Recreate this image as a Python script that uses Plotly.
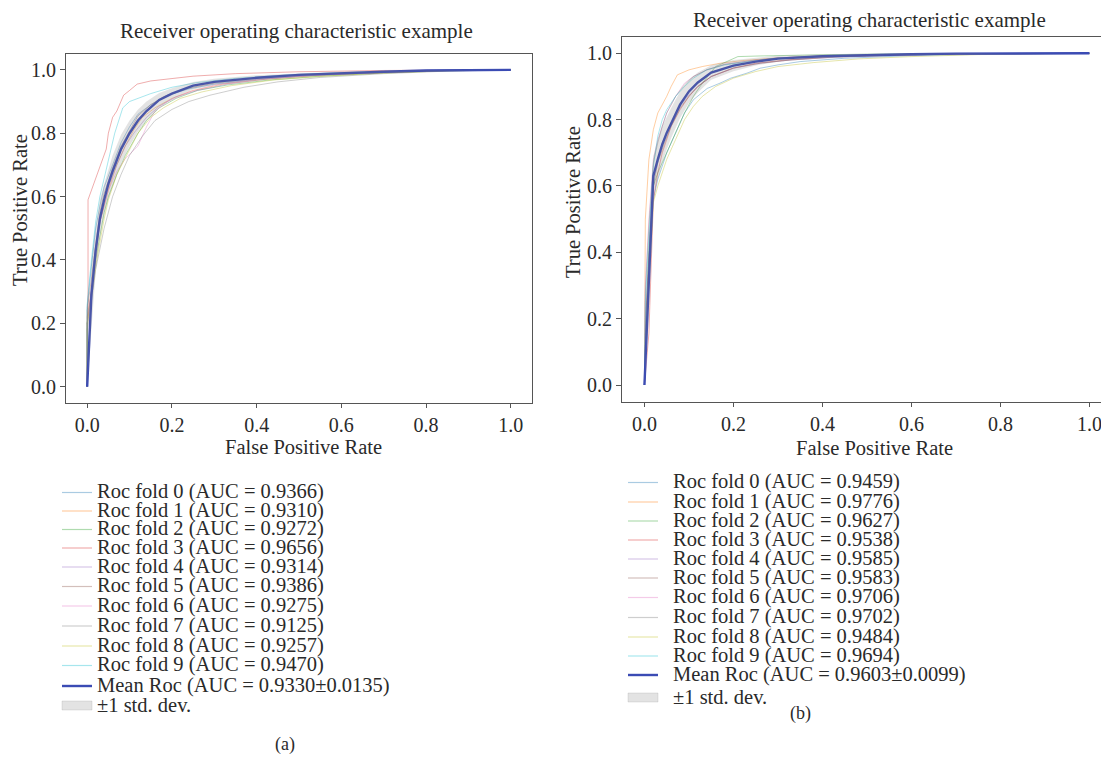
import plotly.graph_objects as go

W, H = 1109, 758
OFF = 8                      # browser body margin around the plot div
FW, FH = W - OFF, H - OFF    # figure size so that the page fits the window
FONT = "Liberation Serif"
TXT = "#2a2a2a"
AX = "#555555"

# ---------------- data: panel (a) ----------------
fpr_a0 = [0, 0, 0.01, 0.02, 0.03, 0.04, 0.06, 0.08, 0.1, 0.12, 0.15, 0.19, 0.24, 0.3, 0.4, 0.5, 0.65, 0.8, 1]
tpr_a0 = [0, 0.25, 0.38, 0.5, 0.57, 0.63, 0.7, 0.77, 0.82, 0.86, 0.89, 0.92, 0.94, 0.955, 0.97, 0.98, 0.99, 0.998, 1]
fpr_a1 = [0, 0, 0.01, 0.02, 0.03, 0.05, 0.07, 0.09, 0.11, 0.13, 0.16, 0.2, 0.25, 0.32, 0.42, 0.55, 0.7, 0.85, 1]
tpr_a1 = [0, 0.22, 0.3, 0.42, 0.52, 0.62, 0.7, 0.76, 0.81, 0.85, 0.88, 0.91, 0.935, 0.955, 0.97, 0.983, 0.992, 0.998, 1]
fpr_a2 = [0, 0, 0.01, 0.02, 0.04, 0.05, 0.07, 0.09, 0.12, 0.14, 0.17, 0.21, 0.26, 0.33, 0.43, 0.55, 0.7, 0.85, 1]
tpr_a2 = [0, 0.2, 0.3, 0.4, 0.55, 0.6, 0.67, 0.73, 0.8, 0.84, 0.88, 0.91, 0.935, 0.952, 0.968, 0.98, 0.99, 0.997, 1]
fpr_a3 = [0, 0.002, 0.002, 0.018, 0.03, 0.045, 0.05, 0.06, 0.07, 0.086, 0.1, 0.118, 0.15, 0.2, 0.25, 0.35, 0.5, 0.7, 1]
tpr_a3 = [0, 0.3, 0.59, 0.65, 0.7, 0.75, 0.8, 0.85, 0.87, 0.92, 0.935, 0.955, 0.965, 0.972, 0.98, 0.988, 0.994, 0.998, 1]
fpr_a4 = [0, 0, 0.01, 0.02, 0.03, 0.05, 0.07, 0.09, 0.11, 0.14, 0.17, 0.21, 0.26, 0.33, 0.43, 0.55, 0.7, 0.85, 1]
tpr_a4 = [0, 0.2, 0.31, 0.43, 0.52, 0.63, 0.7, 0.76, 0.8, 0.85, 0.885, 0.915, 0.935, 0.955, 0.972, 0.984, 0.992, 0.998, 1]
fpr_a5 = [0, 0, 0.01, 0.02, 0.03, 0.04, 0.06, 0.08, 0.1, 0.12, 0.15, 0.18, 0.23, 0.3, 0.4, 0.52, 0.68, 0.82, 1]
tpr_a5 = [0, 0.24, 0.34, 0.45, 0.55, 0.61, 0.69, 0.76, 0.81, 0.855, 0.89, 0.915, 0.94, 0.958, 0.973, 0.985, 0.993, 0.998, 1]
fpr_a6 = [0, 0, 0.01, 0.02, 0.03, 0.05, 0.07, 0.09, 0.12, 0.14, 0.16, 0.19, 0.24, 0.3, 0.4, 0.52, 0.68, 0.82, 1]
tpr_a6 = [0, 0.2, 0.3, 0.42, 0.52, 0.62, 0.68, 0.72, 0.76, 0.82, 0.87, 0.9, 0.93, 0.952, 0.97, 0.982, 0.991, 0.997, 1]
fpr_a7 = [0, 0, 0.01, 0.02, 0.04, 0.06, 0.08, 0.1, 0.13, 0.16, 0.2, 0.24, 0.29, 0.37, 0.45, 0.55, 0.7, 0.85, 1]
tpr_a7 = [0, 0.18, 0.27, 0.37, 0.5, 0.6, 0.67, 0.73, 0.79, 0.84, 0.875, 0.9, 0.92, 0.945, 0.962, 0.976, 0.988, 0.996, 1]
fpr_a8 = [0, 0, 0.01, 0.02, 0.04, 0.05, 0.07, 0.1, 0.12, 0.15, 0.18, 0.22, 0.27, 0.34, 0.44, 0.56, 0.7, 0.85, 1]
tpr_a8 = [0, 0.2, 0.28, 0.38, 0.53, 0.59, 0.67, 0.75, 0.8, 0.85, 0.88, 0.91, 0.93, 0.95, 0.968, 0.98, 0.99, 0.997, 1]
fpr_a9 = [0, 0, 0.01, 0.02, 0.03, 0.04, 0.05, 0.065, 0.084, 0.1, 0.12, 0.15, 0.2, 0.26, 0.35, 0.48, 0.65, 0.8, 1]
tpr_a9 = [0, 0.26, 0.4, 0.52, 0.6, 0.66, 0.72, 0.8, 0.88, 0.9, 0.91, 0.925, 0.945, 0.96, 0.973, 0.985, 0.993, 0.998, 1]

grid_a = [0, 0.01, 0.02, 0.03, 0.04, 0.05, 0.06, 0.08, 0.1, 0.12, 0.14, 0.17, 0.2, 0.25, 0.3, 0.4, 0.5, 0.6, 0.7, 0.8, 0.9, 1.0]
mean_a = [0, 0.29, 0.43, 0.53, 0.59, 0.64, 0.68, 0.75, 0.8, 0.84, 0.87, 0.905, 0.925, 0.95, 0.962, 0.975, 0.984, 0.99, 0.994, 0.998, 0.999, 1.0]
std_a = [0, 0.1, 0.07, 0.06, 0.05, 0.045, 0.05, 0.045, 0.04, 0.035, 0.03, 0.022, 0.017, 0.012, 0.01, 0.008, 0.006, 0.005, 0.004, 0.002, 0.001, 0]
auc_a = [0.9366, 0.9310, 0.9272, 0.9656, 0.9314, 0.9386, 0.9275, 0.9125, 0.9257, 0.9470]
mean_auc_a, std_auc_a = 0.9330, 0.0135

# ---------------- data: panel (b) ----------------
fpr_b0 = [0, 0.003, 0.01, 0.02, 0.03, 0.05, 0.07, 0.09, 0.11, 0.141, 0.17, 0.194, 0.23, 0.26, 0.3, 0.35, 0.45, 0.6, 0.8, 1]
tpr_b0 = [0, 0.15, 0.35, 0.56, 0.62, 0.7, 0.76, 0.82, 0.86, 0.894, 0.91, 0.925, 0.94, 0.955, 0.965, 0.975, 0.985, 0.993, 0.998, 1]
fpr_b1 = [0, 0.002, 0.01, 0.02, 0.03, 0.05, 0.06, 0.074, 0.1, 0.13, 0.17, 0.22, 0.3, 0.4, 0.55, 0.7, 1]
tpr_b1 = [0, 0.5, 0.68, 0.77, 0.82, 0.87, 0.9, 0.935, 0.95, 0.96, 0.97, 0.978, 0.986, 0.992, 0.996, 0.999, 1]
fpr_b2 = [0, 0.003, 0.01, 0.02, 0.03, 0.05, 0.07, 0.09, 0.11, 0.13, 0.16, 0.21, 0.26, 0.32, 0.42, 0.55, 0.7, 1]
tpr_b2 = [0, 0.2, 0.4, 0.6, 0.64, 0.7, 0.76, 0.82, 0.87, 0.91, 0.96, 0.99, 0.992, 0.994, 0.996, 0.998, 0.999, 1]
fpr_b3 = [0, 0.005, 0.01, 0.02, 0.03, 0.04, 0.06, 0.08, 0.1, 0.12, 0.15, 0.2, 0.25, 0.32, 0.42, 0.55, 0.7, 1]
tpr_b3 = [0, 0.08, 0.155, 0.557, 0.64, 0.7, 0.78, 0.83, 0.87, 0.9, 0.93, 0.955, 0.97, 0.98, 0.99, 0.995, 0.998, 1]
fpr_b4 = [0, 0.003, 0.01, 0.02, 0.03, 0.04, 0.06, 0.08, 0.1, 0.12, 0.15, 0.2, 0.26, 0.33, 0.43, 0.55, 0.7, 1]
tpr_b4 = [0, 0.22, 0.4, 0.62, 0.68, 0.73, 0.79, 0.84, 0.875, 0.9, 0.93, 0.955, 0.97, 0.98, 0.988, 0.994, 0.998, 1]
fpr_b5 = [0, 0.003, 0.01, 0.02, 0.03, 0.045, 0.06, 0.08, 0.1, 0.12, 0.15, 0.2, 0.26, 0.33, 0.43, 0.55, 0.7, 1]
tpr_b5 = [0, 0.2, 0.38, 0.6, 0.67, 0.73, 0.78, 0.835, 0.87, 0.9, 0.93, 0.956, 0.97, 0.98, 0.989, 0.994, 0.998, 1]
fpr_b6 = [0, 0.002, 0.01, 0.02, 0.03, 0.04, 0.05, 0.07, 0.09, 0.11, 0.14, 0.18, 0.24, 0.3, 0.4, 0.55, 0.7, 1]
tpr_b6 = [0, 0.3, 0.5, 0.68, 0.74, 0.78, 0.82, 0.87, 0.91, 0.93, 0.95, 0.967, 0.978, 0.986, 0.992, 0.996, 0.999, 1]
fpr_b7 = [0, 0.002, 0.01, 0.02, 0.03, 0.04, 0.05, 0.07, 0.09, 0.11, 0.14, 0.18, 0.24, 0.3, 0.4, 0.55, 0.7, 1]
tpr_b7 = [0, 0.28, 0.48, 0.67, 0.73, 0.78, 0.82, 0.87, 0.905, 0.93, 0.95, 0.966, 0.978, 0.986, 0.992, 0.996, 0.999, 1]
fpr_b8 = [0, 0.004, 0.01, 0.02, 0.03, 0.05, 0.07, 0.09, 0.11, 0.13, 0.16, 0.2, 0.25, 0.3, 0.38, 0.48, 0.6, 0.75, 1]
tpr_b8 = [0, 0.15, 0.3, 0.55, 0.6, 0.68, 0.74, 0.8, 0.84, 0.87, 0.9, 0.925, 0.945, 0.96, 0.972, 0.983, 0.99, 0.996, 1]
fpr_b9 = [0, 0.002, 0.01, 0.02, 0.03, 0.04, 0.05, 0.07, 0.09, 0.11, 0.14, 0.18, 0.24, 0.3, 0.4, 0.55, 0.7, 1]
tpr_b9 = [0, 0.25, 0.45, 0.66, 0.75, 0.8, 0.83, 0.87, 0.9, 0.925, 0.95, 0.965, 0.976, 0.985, 0.992, 0.996, 0.999, 1]

grid_b = [0, 0.01, 0.02, 0.03, 0.04, 0.05, 0.06, 0.08, 0.1, 0.12, 0.15, 0.2, 0.25, 0.3, 0.4, 0.5, 0.6, 0.7, 0.8, 0.9, 1.0]
mean_b = [0, 0.33, 0.63, 0.68, 0.725, 0.76, 0.79, 0.845, 0.885, 0.912, 0.942, 0.963, 0.975, 0.984, 0.991, 0.995, 0.997, 0.999, 1.0, 1.0, 1.0]
std_b = [0, 0.12, 0.06, 0.06, 0.055, 0.05, 0.045, 0.04, 0.035, 0.03, 0.022, 0.017, 0.012, 0.009, 0.006, 0.004, 0.003, 0.002, 0.001, 0, 0]
auc_b = [0.9459, 0.9776, 0.9627, 0.9538, 0.9585, 0.9583, 0.9706, 0.9702, 0.9484, 0.9694]
mean_auc_b, std_auc_b = 0.9603, 0.0099

tick_vals = [0.0, 0.2, 0.4, 0.6, 0.8, 1.0]
title_text = "Receiver operating characteristic example"
xlabel = "False Positive Rate"
ylabel = "True Positive Rate"

folds_a = [(fpr_a0, tpr_a0), (fpr_a1, tpr_a1), (fpr_a2, tpr_a2), (fpr_a3, tpr_a3), (fpr_a4, tpr_a4),
           (fpr_a5, tpr_a5), (fpr_a6, tpr_a6), (fpr_a7, tpr_a7), (fpr_a8, tpr_a8), (fpr_a9, tpr_a9)]
folds_b = [(fpr_b0, tpr_b0), (fpr_b1, tpr_b1), (fpr_b2, tpr_b2), (fpr_b3, tpr_b3), (fpr_b4, tpr_b4),
           (fpr_b5, tpr_b5), (fpr_b6, tpr_b6), (fpr_b7, tpr_b7), (fpr_b8, tpr_b8), (fpr_b9, tpr_b9)]

# ---------------- styles ----------------
tab10 = [(31, 119, 180), (255, 127, 14), (44, 160, 44), (214, 39, 40), (148, 103, 189),
         (140, 86, 75), (227, 119, 194), (127, 127, 127), (188, 189, 34), (23, 190, 207)]
fold_col = ["rgba(%d,%d,%d,0.38)" % c for c in tab10]
MEAN_COL = "#3b4bb4"
BAND_COL = "rgba(128,128,128,0.22)"


def px(x):
    """window pixel x -> paper coordinate"""
    return (x - OFF) / FW


def py(y):
    """window pixel y -> paper coordinate"""
    return 1 - (y - OFF) / FH


fig = go.Figure()

panels = [
    dict(folds=folds_a, grid=grid_a, mean=mean_a, std=std_a, xa="x", ya="y",
         auc=auc_a, mauc=mean_auc_a, sauc=std_auc_a),
    dict(folds=folds_b, grid=grid_b, mean=mean_b, std=std_b, xa="x2", ya="y2",
         auc=auc_b, mauc=mean_auc_b, sauc=std_auc_b),
]

for p in panels:
    for i, (f, t) in enumerate(p["folds"]):
        fig.add_trace(go.Scatter(x=f, y=t, mode="lines", xaxis=p["xa"], yaxis=p["ya"],
                                 line=dict(color=fold_col[i], width=1),
                                 name="Roc fold %d (AUC = %.4f)" % (i, p["auc"][i]),
                                 showlegend=False))
    fig.add_trace(go.Scatter(x=p["grid"], y=p["mean"], mode="lines", xaxis=p["xa"], yaxis=p["ya"],
                             line=dict(color=MEAN_COL, width=2.4),
                             name="Mean Roc", showlegend=False))
    upper = [min(m + s, 1.0) for m, s in zip(p["mean"], p["std"])]
    lower = [max(m - s, 0.0) for m, s in zip(p["mean"], p["std"])]
    fig.add_trace(go.Scatter(x=p["grid"], y=lower, mode="lines", xaxis=p["xa"], yaxis=p["ya"],
                             line=dict(width=0), showlegend=False, hoverinfo="skip"))
    fig.add_trace(go.Scatter(x=p["grid"], y=upper, mode="lines", xaxis=p["xa"], yaxis=p["ya"],
                             line=dict(width=0), fill="tonexty", fillcolor=BAND_COL,
                             name="±1 std. dev.", showlegend=False))

axis_common = dict(showline=True, mirror=True, linecolor=AX, linewidth=1.2, ticks="outside",
                   ticklen=5, tickcolor=AX, tickwidth=1, showgrid=False, zeroline=False,
                   tickvals=tick_vals, tickformat=".1f", automargin=False,
                   tickfont=dict(family=FONT, size=20, color=TXT))
xaxis_extra = dict(ticklen=4)

# panel geometry (window pixels)
A = dict(l=66, r=532, t=54, b=402.6)
B = dict(l=622.2, t=36.7, b=401.6)

fig.update_layout(
    width=FW, height=FH, margin=dict(l=0, r=0, t=0, b=0),
    paper_bgcolor="white", plot_bgcolor="white", showlegend=False,
    xaxis=dict(domain=[px(A["l"]), px(A["r"])], range=[-0.05, 1.05], anchor="y", **axis_common),
    yaxis=dict(domain=[py(A["b"]), py(A["t"])], range=[-0.05, 1.05], anchor="x", **axis_common),
    xaxis2=dict(domain=[px(B["l"]), 1.0], range=[-0.05, 1.044], anchor="y2", **axis_common),
    yaxis2=dict(domain=[py(B["b"]), py(B["t"])], range=[-0.05, 1.05], anchor="x2", **axis_common),
)
fig.update_xaxes(**xaxis_extra)

ann = []
shapes = []


def text(x, y, s, size=20, angle=0, xanchor="center"):
    ann.append(dict(x=px(x), y=py(y), xref="paper", yref="paper", text=s, showarrow=False,
                    xanchor=xanchor, yanchor="middle", textangle=angle, borderpad=0,
                    font=dict(family=FONT, size=size, color=TXT)))


# titles and axis labels
text(296, 31, title_text, size=21)
text(869, 20, title_text, size=21)
text(303, 447, xlabel, size=20.5)
text(874, 448, xlabel, size=20.5)
text(20, 210, ylabel, size=20.5, angle=-90)
text(573, 202, ylabel, size=20.5, angle=-90)
text(285, 744, "(a)", size=18)
text(800, 713, "(b)", size=18)

# legends
rows_a = [491.5, 510, 528.5, 547, 566, 585.5, 605, 625, 645, 664.5, 685, 705]
rows_b = [481.5, 501, 520, 539, 558, 577, 596.5, 616.5, 636, 655, 674, 697]
leg = [
    dict(p=panels[0], rows=rows_a, x0=62, x1=92, tx=96),
    dict(p=panels[1], rows=rows_b, x0=628, x1=658, tx=672),
]
for L in leg:
    p = L["p"]
    labels = ["Roc fold %d (AUC = %.4f)" % (i, a) for i, a in enumerate(p["auc"])]
    labels.append("Mean Roc (AUC = %.4f±%.4f)" % (p["mauc"], p["sauc"]))
    labels.append("±1 std. dev.")
    for k, lab in enumerate(labels):
        yy = L["rows"][k]
        text(L["tx"], yy, lab, size=20.5, xanchor="left")
        if k < 10:
            shapes.append(dict(type="line", xref="paper", yref="paper",
                               x0=px(L["x0"]), x1=px(L["x1"]), y0=py(yy + 1), y1=py(yy + 1),
                               line=dict(color=fold_col[k], width=1.2)))
        elif k == 10:
            shapes.append(dict(type="line", xref="paper", yref="paper",
                               x0=px(L["x0"]), x1=px(L["x1"]), y0=py(yy + 1), y1=py(yy + 1),
                               line=dict(color=MEAN_COL, width=2.4)))
        else:
            shapes.append(dict(type="rect", xref="paper", yref="paper",
                               x0=px(L["x0"]), x1=px(L["x1"]), y0=py(yy + 5), y1=py(yy - 4),
                               line=dict(color="rgba(160,160,160,0.5)", width=0.5),
                               fillcolor=BAND_COL))

fig.update_layout(annotations=ann, shapes=shapes)
fig.write_html("out.html")
